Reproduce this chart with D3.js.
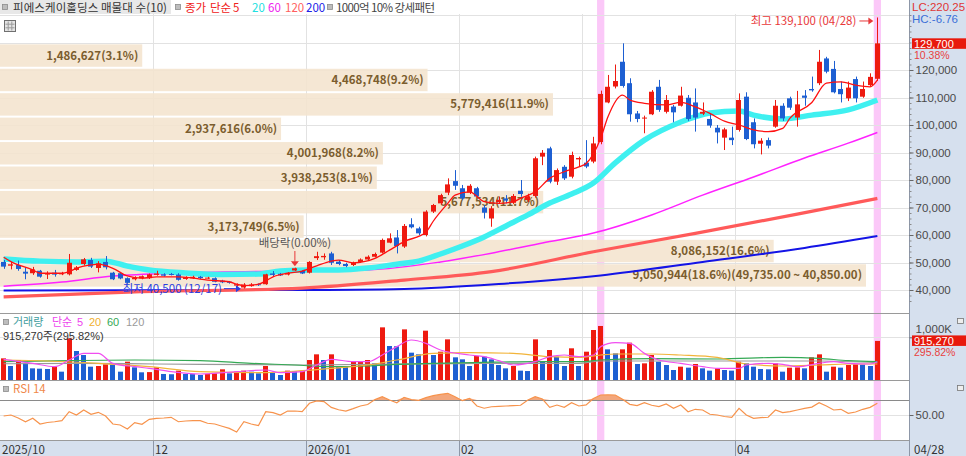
<!DOCTYPE html>
<html>
<head>
<meta charset="utf-8">
<script src="https://cdn.jsdelivr.net/npm/d3@7"></script>
<style>
  body { margin: 0; background: #fff; overflow: hidden; }
  svg { display: block; font-family: "Noto Sans CJK KR", "Noto Sans", sans-serif; }
</style>
</head>
<body>
<svg id="chart" width="966" height="456"></svg>
<script>
// trading days shown (Oct 31 2025 .. Apr 28 2026)
const dates = [
  "2025-10-31",
  "2025-11-03","2025-11-04","2025-11-05","2025-11-06","2025-11-07","2025-11-10","2025-11-11","2025-11-12","2025-11-13","2025-11-14",
  "2025-11-17","2025-11-18","2025-11-19","2025-11-20","2025-11-21","2025-11-24","2025-11-25","2025-11-26","2025-11-27","2025-11-28",
  "2025-12-01","2025-12-02","2025-12-03","2025-12-04","2025-12-05","2025-12-08","2025-12-09","2025-12-10","2025-12-11","2025-12-12",
  "2025-12-15","2025-12-16","2025-12-17","2025-12-18","2025-12-19","2025-12-22","2025-12-23","2025-12-24","2025-12-26","2025-12-29","2025-12-30",
  "2026-01-02","2026-01-05","2026-01-06","2026-01-07","2026-01-08","2026-01-09","2026-01-12","2026-01-13","2026-01-14","2026-01-15",
  "2026-01-16","2026-01-19","2026-01-20","2026-01-21","2026-01-22","2026-01-23","2026-01-26","2026-01-27","2026-01-28","2026-01-29","2026-01-30",
  "2026-02-02","2026-02-03","2026-02-04","2026-02-05","2026-02-06","2026-02-09","2026-02-10","2026-02-11","2026-02-12","2026-02-13",
  "2026-02-19","2026-02-20","2026-02-23","2026-02-24","2026-02-25","2026-02-26","2026-02-27",
  "2026-03-03","2026-03-04","2026-03-05","2026-03-06","2026-03-09","2026-03-10","2026-03-11","2026-03-12","2026-03-13","2026-03-16",
  "2026-03-17","2026-03-18","2026-03-19","2026-03-20","2026-03-23","2026-03-24","2026-03-25","2026-03-26","2026-03-27","2026-03-30","2026-03-31",
  "2026-04-01","2026-04-02","2026-04-03","2026-04-06","2026-04-07","2026-04-08","2026-04-09","2026-04-10","2026-04-13","2026-04-14",
  "2026-04-15","2026-04-16","2026-04-17","2026-04-20","2026-04-21","2026-04-22","2026-04-23","2026-04-24","2026-04-27","2026-04-28"
];

const open = [
  50200,48850,49100,46650,46100,47000,45600,46300,45700,45700,
  47300,49450,50900,48000,50200,46300,46100,44300,43900,44200,
  44300,45500,45700,45800,45600,44000,44250,44800,44300,44300,
  43400,43000,41600,40900,41400,42100,42100,46000,45900,45600,
  47100,46900,46300,51600,51900,53300,50300,49450,49100,50200,
  51100,52100,53600,57200,59100,55800,63900,62400,60000,68500,
  71500,75400,79600,77000,75400,77000,70000,66000,72000,73300,
  71700,76100,72700,74200,88500,91500,79400,84800,81200,87500,
  86300,86700,93800,108200,114000,123000,115200,104200,102400,103900,
  113900,104800,106700,107000,109900,108200,104100,102200,99000,95400,
  95400,98200,110300,101000,93200,94500,99400,107000,109700,102700,
  110700,113100,115200,124200,120400,113100,109700,116700,110300,114500,
  116800
];
const high = [
  50900,50200,50700,48250,48400,47300,46800,47300,46600,53100,
  48700,51650,51700,50500,52350,46600,46400,44600,45000,45300,
  46000,47000,46100,46200,46100,45000,45200,45100,44800,44600,
  43700,43300,42400,42500,42500,42400,45900,46900,46200,46500,
  48100,47200,50500,53900,53300,53900,50900,49900,50300,51500,
  52600,53600,58700,60600,61800,64000,66100,63000,69000,71300,
  75000,80600,83600,78200,78500,77500,70900,70500,74000,74500,
  74900,80000,75000,88500,90900,92100,84200,85400,90300,88500,
  94500,95700,112500,118200,122000,129700,117000,105100,103400,112700,
  116400,110900,107300,113900,110900,113300,108200,104200,100000,99000,
  99400,111500,111900,102400,95200,95400,109100,107900,110300,112400,
  112700,117600,127300,124800,123300,115800,115800,117600,115800,118800,
  139100
];
const low = [
  47700,47500,47000,43900,45500,44500,44000,44850,45400,45300,
  47000,48900,48000,46400,47500,43600,43900,42300,43500,43900,
  44000,45200,44900,45300,43400,43700,44000,44000,44000,42800,
  42500,42300,41200,40500,41200,41500,41900,45000,45100,45300,
  46900,45800,46000,50900,51000,49100,49000,48300,48700,49900,
  50900,51900,53300,57000,53300,55300,62400,60000,59500,68000,
  71000,74500,76400,72700,74900,73500,66000,63000,71500,71500,
  71300,73900,72000,73600,85400,78800,78200,80000,80600,84800,
  84300,86100,93000,107900,113300,113600,101200,101000,97000,103600,
  104800,104200,101000,106700,101500,97600,103600,99000,93300,90900,
  92700,97600,94500,91500,89300,91500,99000,101500,105500,99400,
  107000,112100,114500,118800,111500,108200,108700,108200,109900,113900,
  116000
];
const close = [
  48500,49350,47650,45950,47500,44850,46050,45600,46100,49900,
  48200,51150,48500,49700,48250,43900,44200,42600,44500,45000,
  45700,46000,45200,45500,43700,44600,44800,44300,44500,43000,
  42800,42600,42100,42000,42000,41800,45700,45500,45300,46200,
  47900,46000,50200,52300,52400,49900,49450,48700,49900,51100,
  52100,53100,58200,58800,56000,63300,62800,60600,68500,70900,
  74500,78400,77900,73300,77900,74000,68100,69700,72800,72500,
  74200,74900,74100,87900,89900,79400,83600,80600,89100,88000,
  84900,93300,111300,113900,116000,114200,103900,102200,102700,112100,
  105500,109100,104600,110700,102200,102700,104800,99800,97300,98400,
  94500,109100,94900,93000,94300,92500,107000,102400,106300,107500,
  109900,112600,123000,119400,111900,111200,113600,109700,113100,117500,
  129700
];
const volume = [
  507000,328000,468000,390000,273000,265000,258000,312000,195000,976000,
  679000,585000,312000,328000,367000,360000,195000,429000,297000,180000,
  185000,297000,141000,135000,219000,141000,138000,117000,141000,156000,
  250000,156000,195000,219000,195000,156000,328000,172000,117000,219000,
  205000,219000,468000,601000,468000,601000,328000,320000,429000,440000,
  468000,390000,1233000,796000,790000,1186000,640000,601000,1155000,585000,
  663000,952000,531000,484000,328000,562000,546000,484000,351000,273000,
  328000,219000,210000,952000,429000,702000,546000,328000,742000,328000,
  663000,1171000,1265000,718000,624000,718000,874000,375000,390000,585000,
  429000,351000,234000,312000,289000,375000,273000,219000,273000,234000,
  219000,429000,390000,312000,258000,250000,390000,195000,289000,295000,
  273000,531000,601000,195000,312000,289000,351000,367000,360000,328000,
  915270
];
const rsi = [
  48.7,50,46,41,45.6,38,40,41,42.4,54.4,
  50,56.7,50.9,53.6,48.7,38,36.7,31.3,39.8,37.6,
  44.2,45.6,46,46.9,41,42,42.5,42.4,39,38,
  35,32.2,27.3,41,38,35.8,54.4,53.1,50,55.3,
  55.3,54.4,65.6,68.7,67.8,60.2,57,55.3,58.5,62,
  64,70.5,74.4,70,66.4,73.6,70.5,69.5,73.1,75.8,
  77.5,78.9,74.4,69.1,72.2,62,59,61,61.5,62,
  62.5,63,70,74.4,71.3,60.2,63.3,60.2,66.4,62,
  63.5,72,76.7,76.9,76.7,71,64.2,62.5,66.5,63,
  61.1,64.7,58.9,63.3,54.4,57.6,56.7,51,50,48,
  46.9,58.9,50,45.6,46.5,47,56.7,53.1,54.5,56.7,
  58.9,60.5,66.4,62,56.7,57.6,52.2,54,57.6,60.2,
  65.6
];

// moving averages: [day index, value]
const ma5 = [[0,51900],[1,50300],[4,47300],[5,46100],[8,46100],[9,46700],[10,47900],[12,49100],[13,49400],[15,47900],[17,45100],[19,44300],[21,44800],[24,44800],[26,44300],[28,43600],[31,43000],[32,42100],[33,41600],[35,42100],[36,43300],[37,44800],[39,46100],[41,46900],[43,48800],[45,50500],[46,50900],[48,49900],[51,51500],[53,54500],[55,57600],[58,61000],[59,65000],[61,71500],[62,74500],[64,75700],[66,72100],[68,71500],[70,72100],[71,73300],[73,75700],[75,80600],[77,83000],[79,84800],[80,86000],[82,95200],[83,103000],[85,110900],[86,109100],[88,107900],[91,107300],[93,108200],[95,106600],[97,104200],[99,101400],[101,100000],[103,98200],[105,97600],[107,98800],[108,102500],[111,108200],[113,115200],[115,115700],[117,114500],[119,113900],[120,116300]];
const ma20 = [[0,51300],[5,50500],[10,50200],[14,50500],[17,48700],[20,47300],[25,46200],[30,45600],[35,45800],[38,46900],[42,47300],[46,47300],[50,48000],[54,49400],[57,50500],[60,53100],[63,56000],[66,59300],[69,63300],[72,67300],[75,71600],[78,74900],[81,78900],[84,86200],[88,94500],[93,101100],[97,104400],[101,105100],[103,103600],[107,102200],[111,103600],[116,105500],[120,109100]];
const ma60 = [[0,41400],[8,42900],[15,45100],[25,46200],[40,46900],[50,47300],[60,50200],[67,53400],[74,57100],[81,60700],[89,67300],[96,74500],[103,81100],[110,88000],[116,93400],[120,97300]];
const ma120 = [[0,37500],[18,39300],[41,40700],[55,43600],[67,46700],[81,53900],[95,60600],[109,67600],[120,73300]];
const ma200 = [[0,39800],[40,40000],[55,40400],[68,42200],[82,45300],[96,50200],[110,55300],[120,59600]];

// volume moving averages, thousands of shares
const volMa5 = [[0,484],[4,390],[7,312],[9,468],[11,624],[13,624],[15,390],[18,312],[20,273],[23,195],[27,141],[32,195],[36,234],[38,172],[41,195],[43,351],[45,484],[48,429],[50,429],[52,585],[54,781],[56,937],[58,859],[60,703],[64,585],[66,546],[68,453],[70,351],[73,429],[75,546],[77,585],[79,546],[81,585],[82,781],[84,874],[86,859],[88,624],[90,468],[93,390],[96,312],[98,273],[101,273],[102,351],[105,390],[107,367],[109,312],[112,390],[114,429],[116,390],[119,375],[120,429]];
const volMa20 = [[0,468],[6,445],[13,390],[20,312],[27,195],[36,172],[41,219],[45,273],[50,351],[54,468],[59,624],[64,640],[70,624],[75,546],[79,531],[82,585],[84,609],[89,609],[93,585],[98,531],[102,375],[107,328],[112,351],[116,375],[120,375]];
const volMa60 = [[0,429],[9,453],[18,468],[27,453],[34,390],[40,351],[45,312],[50,328],[54,367],[59,390],[66,415],[73,429],[79,429],[82,468],[89,500],[98,492],[107,531],[112,507],[116,453],[120,429]];
const volMa120 = [[0,380],[10,390],[21,375],[41,351],[66,390],[79,390],[82,445],[112,445],[120,406]];

// 매물대 (volume profile), top band first
const profileVol = [1486627,4468748,5779416,2937616,4001968,3938253,5677534,3173749,8086152,9050944];
const profilePct = ["3.1","9.2","11.9","6.0","8.2","8.1","11.7","6.5","16.6","18.6"];
const profileRange = [40850, 129700];

const strongDays = ["2026-03-05", "2026-04-28"];
const tickDates = ["2025-10-31","2025-12-01","2026-01-02","2026-02-02","2026-03-03","2026-04-01"];
const tickLabels = ["2025/10","12","2026/01","02","03","04"];
const priceLabels = [40000,50000,60000,70000,80000,90000,100000,110000,120000];
const priceGrid = [40000,50000,60000,70000,80000,90000,100000,110000,120000,130000,140000];
const volRatio = "295.82";

const W = 966, H = 456, plotRight = 909;
const RED = '#ee1a10', BLUE = '#1d5fd2';
const NUMFONT = '"Liberation Sans","Noto Sans CJK KR",sans-serif';
const fmt = d3.format(',');
const svg = d3.select('#chart');

const x = d3.scaleBand().domain(dates).range([0, 881]).paddingInner(0.3).paddingOuter(0.15);
const step = x.step(), bw = x.bandwidth();
const cx = i => x(dates[i]) + bw / 2;
const slotLeft = d => x(d) - (step - bw) / 2;

const y = d3.scaleLinear().domain([40000, 120000]).range([290, 70]);
const yVol = d3.scaleLinear().domain([0, 1000000]).range([380, 337.3]);
const yRsi = d3.scaleLinear().domain([50, 70]).range([415, 400]);

svg.append('rect').attr('width', W).attr('height', H).attr('fill', '#fff');

const defs = svg.append('defs');
defs.append('clipPath').attr('id', 'mainClip')
  .append('rect').attr('x', 0).attr('y', 14).attr('width', plotRight).attr('height', 299);
defs.append('clipPath').attr('id', 'volClip')
  .append('rect').attr('x', 0).attr('y', 314).attr('width', plotRight).attr('height', 66);

// header background
svg.append('rect').attr('x', 0).attr('y', 0).attr('width', 171).attr('height', 14).attr('fill', '#e8e8e8');

// pink "strong pattern" columns
svg.append('g').selectAll('rect').data(strongDays).enter().append('rect')
  .attr('x', d => slotLeft(d)).attr('y', 0).attr('width', step).attr('height', 441)
  .attr('fill', '#fbc8f8');

// grid
const grid = svg.append('g').attr('stroke', '#e2e2e2').attr('stroke-width', 1);
grid.selectAll('.h').data(priceGrid).enter().append('line')
  .attr('x1', 0).attr('x2', plotRight)
  .attr('y1', d => Math.round(y(d)) + 0.5).attr('y2', d => Math.round(y(d)) + 0.5);
grid.selectAll('.v').data(tickDates.slice(1)).enter().append('line')
  .attr('x1', d => Math.round(slotLeft(d)) + 0.5).attr('x2', d => Math.round(slotLeft(d)) + 0.5)
  .attr('y1', 14).attr('y2', 441);
grid.append('line').attr('x1', 0).attr('x2', plotRight).attr('y1', 337.5).attr('y2', 337.5);
grid.append('line').attr('x1', 0).attr('x2', plotRight).attr('y1', 415.5).attr('y2', 415.5);

const main = svg.append('g').attr('clip-path', 'url(#mainClip)');

// volume profile bands
const bandSpan = (profileRange[1] - profileRange[0]) / profileVol.length;
const wProfile = d3.scaleLinear().domain([0, d3.max(profileVol)]).range([0, 866]);
profileVol.forEach((v, k) => {
  const top = profileRange[1] - bandSpan * k;
  const y0 = y(top), y1 = y(top - bandSpan);
  main.append('rect')
    .attr('x', 0).attr('y', y0 + 1).attr('width', wProfile(v)).attr('height', y1 - y0 - 2)
    .attr('fill', '#f4e4cf').attr('opacity', 0.9);
  let label = `${fmt(v)}(${profilePct[k]}%)`;
  if (k === profileVol.length - 1) {
    label += `(${d3.format(',.2f')(top)} ~ ${d3.format(',.2f')(profileRange[0])})`;
  }
  main.append('text')
    .attr('x', wProfile(v) - 4).attr('y', (y0 + y1) / 2 + 4)
    .attr('text-anchor', 'end').attr('font-size', 11.5).attr('font-weight', 'bold')
    .attr('fill', '#7b5d2e').text(label);
});

const maLine = d3.line().x(p => cx(p[0])).y(p => y(p[1])).curve(d3.curveMonotoneX);
const drawMa = (pts, color, width) => main.append('path').datum(pts)
  .attr('d', maLine).attr('fill', 'none').attr('stroke', color)
  .attr('stroke-width', width).attr('stroke-linejoin', 'round');

drawMa(ma200, '#1414e6', 2);
drawMa(ma120, '#ff5a5a', 3.2);
drawMa(ma60, '#ff22ff', 1.5);
drawMa(ma20, '#3ff0f0', 5.5);

// candles
const rows = dates.map((d, i) => ({ d, i, o: open[i], h: high[i], l: low[i], c: close[i] }));
const candle = main.append('g').selectAll('g').data(rows).enter().append('g');
candle.append('line')
  .attr('x1', r => Math.round(cx(r.i)) + 0.5).attr('x2', r => Math.round(cx(r.i)) + 0.5)
  .attr('y1', r => y(r.h)).attr('y2', r => y(r.l))
  .attr('stroke', r => r.c >= r.o ? RED : BLUE);
candle.append('rect')
  .attr('x', r => Math.round(x(r.d))).attr('width', Math.round(bw))
  .attr('y', r => y(Math.max(r.o, r.c)))
  .attr('height', r => Math.max(1, Math.abs(y(r.o) - y(r.c))))
  .attr('fill', r => r.c >= r.o ? RED : BLUE);

drawMa(ma5, '#ff1010', 1.3);

// annotations
const hiY = y(high[120]) + 3.5;
main.append('text').attr('x', cx(120) - 21).attr('y', hiY + 4)
  .attr('text-anchor', 'end').attr('font-size', 11.5).attr('fill', '#e8383a')
  .text(`최고 ${fmt(high[120])} (04/28)`);
main.append('line').attr('x1', cx(120) - 18).attr('x2', cx(120) - 8)
  .attr('y1', hiY).attr('y2', hiY).attr('stroke', '#e8383a');
main.append('path').attr('d', `M${cx(120) - 4},${hiY} l-5,-3.5 v7 z`).attr('fill', '#e8383a');

const loY = y(low[33]);
main.append('text').attr('x', cx(33) - 22).attr('y', loY + 4)
  .attr('text-anchor', 'end').attr('font-size', 11.5).attr('fill', '#2a40e0')
  .text(`최저 ${fmt(low[33])} (12/17)`);
main.append('line').attr('x1', cx(33) - 20).attr('x2', cx(33) - 8)
  .attr('y1', loY).attr('y2', loY).attr('stroke', '#2a40e0');
main.append('path').attr('d', `M${cx(33) - 3},${loY} l-5,-3.5 v7 z`).attr('fill', '#2a40e0');

main.append('text').attr('x', cx(40)).attr('y', 247)
  .attr('text-anchor', 'middle').attr('font-size', 11.5).attr('fill', '#555')
  .text('배당락(0.00%)');
main.append('line').attr('x1', cx(40)).attr('x2', cx(40))
  .attr('y1', 251).attr('y2', y(high[40]) - 6).attr('stroke', '#e8383a');
main.append('path').attr('d', `M${cx(40)},${y(high[40]) - 1.5} l-4,-5 h8 z`).attr('fill', '#e8383a');

// volume panel
const vol = svg.append('g').attr('clip-path', 'url(#volClip)');
vol.selectAll('rect').data(volume).enter().append('rect')
  .attr('x', (v, i) => Math.round(x(dates[i]))).attr('width', Math.round(bw))
  .attr('y', v => yVol(v)).attr('height', v => 380 - yVol(v))
  .attr('fill', (v, i) => i === 0 || v >= volume[i - 1] ? RED : BLUE);

const volLine = d3.line().x(p => cx(p[0])).y(p => yVol(p[1] * 1000)).curve(d3.curveMonotoneX);
[[volMa120, '#9a9a9a'], [volMa60, '#35a955'], [volMa20, '#f2b43a'], [volMa5, '#f04ef0']].forEach(([pts, color]) => {
  vol.append('path').datum(pts).attr('d', volLine)
    .attr('fill', 'none').attr('stroke', color).attr('stroke-width', 1.2);
});

// RSI panel
const rsiArea = d3.area().x((v, i) => cx(i)).y0(yRsi(70)).y1(v => yRsi(Math.max(v, 70)));
svg.append('path').datum(rsi).attr('d', rsiArea).attr('fill', '#f3a77c');
svg.append('line').attr('x1', 0).attr('x2', plotRight).attr('y1', 400.5).attr('y2', 400.5).attr('stroke', '#8a8a8a');
svg.append('path').datum(rsi)
  .attr('d', d3.line().x((v, i) => cx(i)).y(v => yRsi(v)))
  .attr('fill', 'none').attr('stroke', '#f7934c').attr('stroke-width', 1.2);

// panel separators
[313.5, 380.5, 440.5].forEach(py => {
  svg.append('line').attr('x1', 0).attr('x2', plotRight).attr('y1', py).attr('y2', py).attr('stroke', '#9a9a9a');
});

// header legends
const marker = (mx, my) => svg.append('rect').attr('x', mx).attr('y', my).attr('width', 5).attr('height', 5)
  .attr('fill', '#bdbdbd').attr('stroke', '#8c8c8c').attr('stroke-width', 0.8);
const label = (tx, ty, txt, color, size = 11.5, family = null) => {
  const t = svg.append('text').attr('x', tx).attr('y', ty)
    .attr('font-size', size).attr('fill', color).text(txt);
  if (family) t.attr('font-family', family);
  return t;
};

marker(2.5, 4.5);
label(13, 12, '피에스케이홀딩스 매물대 수(10)', '#333').attr('textLength', 154).attr('lengthAdjust', 'spacing');
marker(175.5, 4.5);
label(185, 12, '종가', '#f02020');
label(210, 12, '단순', '#f02020');
label(233, 12, '5', '#f02020');
label(252, 12, '20', '#22e0e0');
label(268, 12, '60', '#ee22ee');
label(285, 12, '120', '#ff6060');
label(306, 12, '200', '#2020e8');
marker(327.5, 4.5);
label(336, 12, '1000억 10% 강세패턴', '#444').attr('textLength', 99).attr('lengthAdjust', 'spacing');

// small table icon
const icon = svg.append('g').attr('transform', 'translate(4.5,20.5)');
icon.append('rect').attr('width', 11).attr('height', 11).attr('fill', '#e4e4e4').attr('stroke', '#707070');
[3.7, 7.3].forEach(t => {
  icon.append('line').attr('x1', t).attr('x2', t).attr('y1', 1).attr('y2', 10).attr('stroke', '#9a9a9a');
  icon.append('line').attr('y1', t).attr('y2', t).attr('x1', 1).attr('x2', 10).attr('stroke', '#9a9a9a');
});

marker(3.5, 319.5);
label(13, 326, '거래량', '#3f9e9e', 11, NUMFONT);
label(52, 326, '단순', '#ee44ee', 11, NUMFONT);
label(77, 326, '5', '#ee44ee', 11, NUMFONT);
label(89, 326, '20', '#f0b030', 11, NUMFONT);
label(107, 326, '60', '#35a955', 11, NUMFONT);
label(126, 326, '120', '#9a9a9a', 11, NUMFONT);
label(3, 339.5, `${fmt(volume[120])}주(${volRatio}%)`, '#333', 11, NUMFONT);

marker(3.5, 386.5);
label(13, 393, 'RSI 14', '#f0884a', 11.5);

// right axis panel
svg.append('rect').attr('x', plotRight).attr('y', 0).attr('width', W - plotRight).attr('height', H).attr('fill', '#d6e0ee');
svg.append('rect').attr('x', 0).attr('y', 441).attr('width', plotRight).attr('height', 15).attr('fill', '#d6e0ee');
svg.append('line').attr('x1', plotRight + 0.5).attr('x2', plotRight + 0.5).attr('y1', 0).attr('y2', H).attr('stroke', '#8d97a8');

const axisG = svg.append('g').attr('transform', `translate(${plotRight + 0.5},0)`);
const styleAxis = g => g.call(a => a.select('.domain').remove())
  .call(a => a.selectAll('line').attr('stroke', '#666'))
  .call(a => a.selectAll('text').attr('font-size', 11.5).attr('fill', '#4a4a4a')
    .attr('font-family', NUMFONT));
axisG.append('g')
  .call(d3.axisRight(y).tickValues(d3.range(36000, 140001, 2000)).tickSize(2).tickFormat(''))
  .call(g => g.select('.domain').remove())
  .selectAll('line').attr('stroke', '#8a8a8a');
axisG.append('g')
  .call(d3.axisRight(y).tickValues(priceLabels).tickSize(4).tickPadding(2).tickFormat(fmt))
  .call(styleAxis);
axisG.append('g')
  .call(d3.axisRight(yVol).tickValues([1000000]).tickSize(4).tickPadding(2).tickFormat(v => fmt(v / 1000) + 'K'))
  .call(styleAxis)
  .selectAll('text').attr('dy', '-0.45em');
axisG.append('g')
  .call(d3.axisRight(yRsi).tickValues([50]).tickSize(4).tickPadding(2).tickFormat(d3.format('.2f')))
  .call(styleAxis);

// right side value tags
label(912, 11, 'LC:220.25', '#e03535', 11.5, NUMFONT);
label(912, 23, 'HC:-6.76', '#3a6fd8', 11.5, NUMFONT);
const lastY = y(close[120]);
svg.append('rect').attr('x', 912).attr('y', lastY - 5).attr('width', W - 912).attr('height', 10.5).attr('fill', '#e8190c');
label(914, lastY + 4.2, fmt(close[120]), '#fff', 11, NUMFONT);
label(914, lastY + 16, d3.format('.2f')((close[120] / close[119] - 1) * 100) + '%', '#e84040', 10.5, NUMFONT);
const lastVY = yVol(volume[120]);
svg.append('rect').attr('x', 912).attr('y', lastVY - 5.5).attr('width', W - 912).attr('height', 10.5).attr('fill', '#e8190c');
label(914, lastVY + 3.8, fmt(volume[120]), '#fff', 11, NUMFONT);
label(914, lastVY + 15.5, `${volRatio}%`, '#e84040', 10.5, NUMFONT);

// tiny panel icons
[318.5, 385.5].forEach(iy => {
  svg.append('rect').attr('x', 957.5).attr('y', iy).attr('width', 6).attr('height', 5)
    .attr('fill', '#eee').attr('stroke', '#777').attr('stroke-width', 0.8);
});

// date axis
const dateAxis = svg.append('g');
tickDates.forEach((d, k) => {
  const gx = Math.round(slotLeft(d)) + 0.5;
  if (k > 0) dateAxis.append('line').attr('x1', gx).attr('x2', gx).attr('y1', 441).attr('y2', H).attr('stroke', '#8d97a8');
  dateAxis.append('text').attr('x', Math.max(1, gx + 1.5)).attr('y', 453.5)
    .attr('font-size', 11.5).attr('fill', '#333').text(tickLabels[k]);
});
label(914, 453.5, '04/28', '#333');
</script>
</body>
</html>
